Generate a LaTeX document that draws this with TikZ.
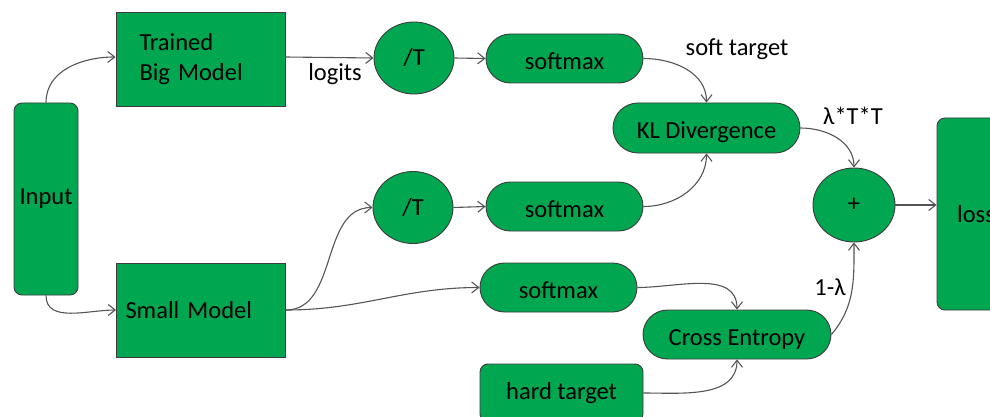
\documentclass[tikz,border=0pt]{standalone}
\usepackage{fontspec}
\setmainfont{Carlito}
\usetikzlibrary{arrows.meta,shapes.geometric,shapes.misc}
\definecolor{boxgreen}{RGB}{0,166,80}
\definecolor{edgegray}{RGB}{85,85,85}
\definecolor{rimgray}{RGB}{60,60,60}
\begin{document}
\begin{tikzpicture}[x=1pt, y=1pt,
  font=\fontsize{24.5}{30}\selectfont,
  blk/.style={draw=rimgray, fill=boxgreen, line width=0.9pt, inner sep=0pt, text=black},
  sqbox/.style={blk, rectangle, minimum width=169pt, minimum height=94pt, align=left},
  roundbox/.style={blk, rectangle, rounded corners=8pt},
  disc/.style={blk, ellipse, minimum width=80pt, minimum height=72pt},
  pill/.style={blk, rounded rectangle, minimum height=49pt, text height=22pt, text depth=0pt},
  lbl/.style={inner sep=0pt, text=black},
  link/.style={draw=edgegray, line width=1.1pt, -{Straight Barb[length=7pt,width=11pt]}}]
\useasboundingbox (0,0) rectangle (990,-417);
\clip (0,0) rectangle (990,-417);

% models and input
\node[roundbox, minimum width=64pt, minimum height=192pt] (in) at (46,-199) {Input};
\node[sqbox, text width=122pt] (big) at (200.5,-59) {Trained\\Big Model};
\node[sqbox, text width=151pt] (small) at (201,-310) {Small Model};

% temperature scaling
\node[disc] (d1) at (414,-58) {/T};
\node[disc] (d2) at (413,-207.5) {/T};

% softmax layers
\node[pill, minimum width=157pt] (sm1) at (564.5,-58.5) {softmax};
\node[pill, minimum width=157pt] (sm2) at (564.5,-206.5) {softmax};
\node[pill, minimum width=157pt] (sm3) at (558.5,-287.5) {softmax};

% losses
\node[pill, minimum width=187pt, minimum height=50pt] (kl) at (706.5,-128) {KL Divergence};
\node[pill, minimum width=188pt] (ce) at (737,-334.5) {Cross Entropy};
\node[roundbox, minimum width=163pt, minimum height=58pt] (hard) at (561.5,-393) {hard target};
\node[disc, minimum width=82pt, minimum height=74pt] (plus) at (854,-205) {+};
\node[roundbox, minimum width=78pt, minimum height=192pt] (loss) at (976,-214) {loss};

% edge labels
\node[lbl] (logitsl) at (335,-74) {logits};
\node[lbl] (softl) at (737,-49) {soft target};
\node[lbl] (lamtt) at (853,-116) {λ*T*T};
\node[lbl] (onelam) at (830,-287) {1-λ};

% connectors
\draw[link] (in.north) to[out=90, in=180] (big.west |- 0,-57);
\draw[link] (in.south) to[out=-90, in=180] (small.west);
\draw[link] (big.east |- 0,-57) -- (d1.west);
\draw[link] (d1.east) -- (sm1.west);
\draw[link] (d2.east) -- (sm2.west);
\draw[link] (sm1.east) to[out=0, in=90] (kl.north);
\draw[link] (sm2.east) to[out=0, in=-90] (kl.south);
\draw[link] (kl.east) to[out=0, in=90] (plus.north);
\draw[link] (plus.east) -- (loss.west |- plus.east);
\draw[link] (small.east) to[out=0, in=180] (d2.west);
\draw[link] (small.east) to[out=0, in=180] (sm3.west);
\draw[link] (sm3.east) to[out=0, in=90] (ce.north);
\draw[link] (hard.east) to[out=0, in=-90] (ce.south);
\draw[link] (ce.east) to[out=50, in=-90] (plus.south);
\end{tikzpicture}
\end{document}
